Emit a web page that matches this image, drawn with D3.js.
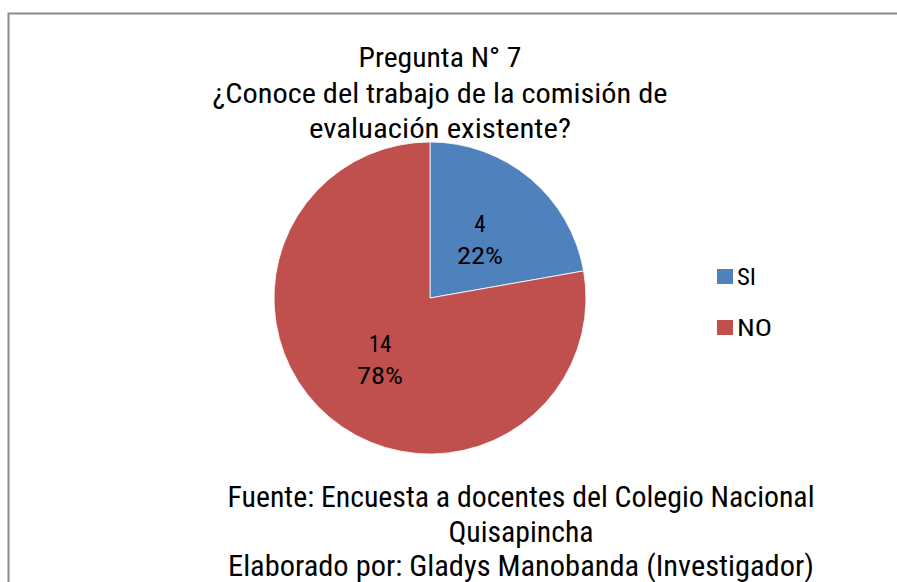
<!DOCTYPE html>
<html><head><meta charset="utf-8">
<script src="https://cdn.jsdelivr.net/npm/d3@7"></script>
<style>body{margin:0;background:#fff}text{font-family:"Roboto Condensed","Liberation Sans Narrow","DejaVu Sans Condensed",sans-serif;fill:#000}</style>
</head><body><svg id="c" width="897" height="582"></svg>
<script>
const categories = ["SI", "NO"];
const values = [4, 14];
const percents = ["22%", "78%"];
const colors = ["#4F81BD", "#C0504D"];
const titleLines = ["Pregunta N° 7", "¿Conoce del trabajo de la comisión de", "evaluación existente?"];
const footerLines = ["Fuente: Encuesta a docentes del Colegio Nacional", "Quisapincha", "Elaborado por: Gladys Manobanda (Investigador)"];

const svg = d3.select("#c");
svg.append("rect").attr("x", 8.5).attr("y", 13.5).attr("width", 1000).attr("height", 1000)
  .attr("fill", "#fff").attr("stroke", "#8c8c8c").attr("stroke-width", 2);

const cx = 430, cy = 298, r = 156;
const pie = d3.pie().sort(null).value(d => d)(values);
const arc = d3.arc().innerRadius(0).outerRadius(r);
const g = svg.append("g").attr("transform", `translate(${cx},${cy})`);
g.selectAll("path").data(pie).join("path").attr("d", arc).attr("fill", (d, i) => colors[i])
  .attr("stroke", "#fff").attr("stroke-width", 0.8);

const labelPos = [[50, -66], [-50, 54]];
pie.forEach((d, i) => {
  const t = g.append("text").attr("text-anchor", "middle").attr("font-size", 23);
  t.append("tspan").attr("x", labelPos[i][0]).attr("y", labelPos[i][1]).text(values[i]);
  t.append("tspan").attr("x", labelPos[i][0]).attr("y", labelPos[i][1] + 32)
    .attr("textLength", 46).attr("lengthAdjust", "spacingAndGlyphs").text(percents[i]);
});

const lg = svg.append("g");
const legendW = [19, 35];
categories.forEach((c, i) => {
  const y = 269 + i * 51;
  lg.append("rect").attr("x", 717).attr("y", y).attr("width", 16).attr("height", 15).attr("fill", colors[i]);
  lg.append("text").attr("x", 737).attr("y", y + 16).attr("font-size", 24)
    .attr("textLength", legendW[i]).attr("lengthAdjust", "spacingAndGlyphs").text(c);
});

const titleW = [163, 455, 262];
titleLines.forEach((s, i) => {
  svg.append("text").attr("x", 440).attr("y", 67 + i * 35.5).attr("text-anchor", "middle")
    .attr("font-size", 27).attr("textLength", titleW[i]).attr("lengthAdjust", "spacingAndGlyphs").text(s);
});
const footerW = [587, 145, 586];
footerLines.forEach((s, i) => {
  svg.append("text").attr("x", 521).attr("y", 507 + i * 34.5).attr("text-anchor", "middle")
    .attr("font-size", 29).attr("textLength", footerW[i]).attr("lengthAdjust", "spacingAndGlyphs").text(s);
});
</script></body></html>
